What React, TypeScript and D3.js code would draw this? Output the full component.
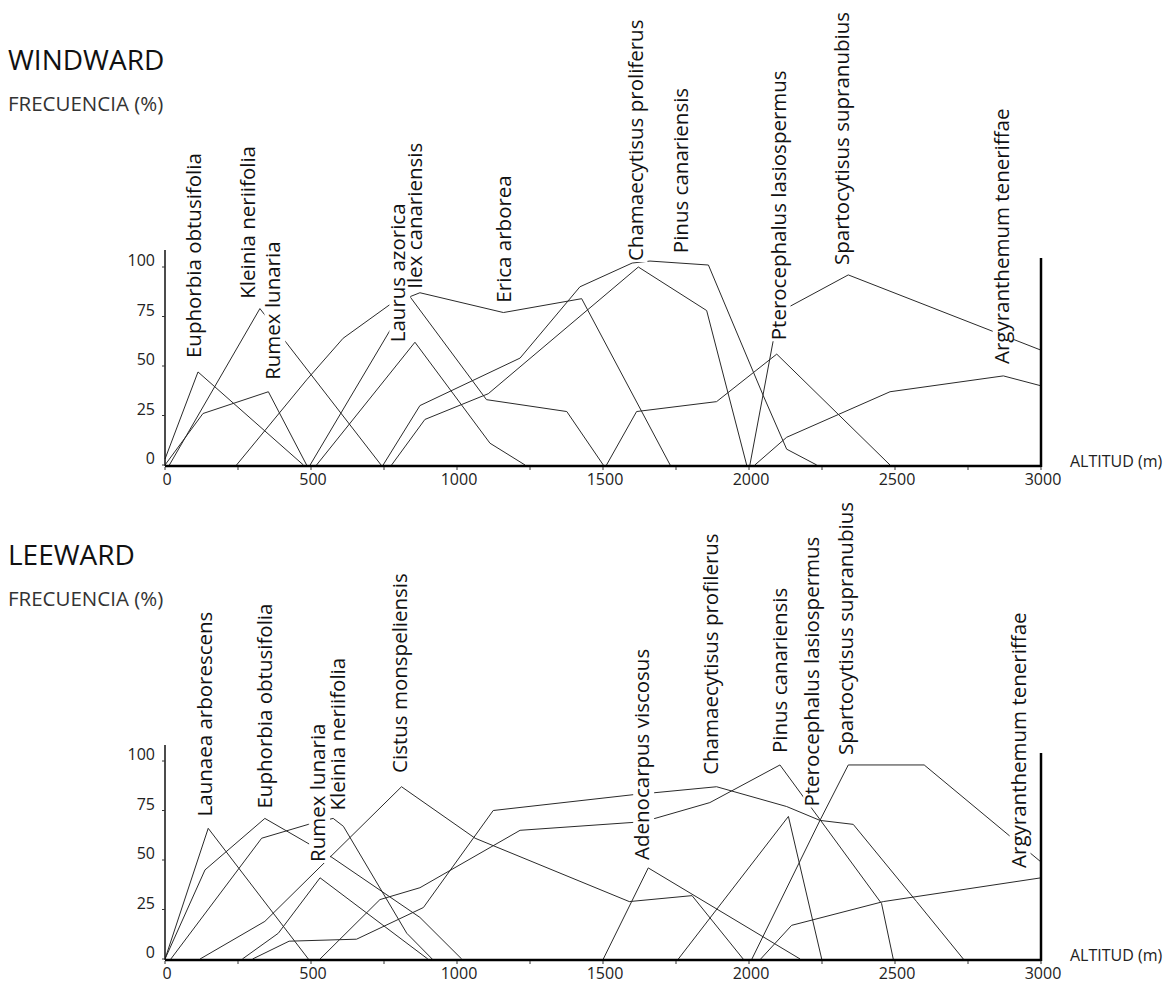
import React, { useEffect, useRef } from 'react';
import * as d3 from 'd3';

const altitudeTicks = [0, 500, 1000, 1500, 2000, 2500, 3000];
const minorAltitudeTicks = [250, 750, 1250, 1750, 2250, 2750];
const frequencyTicks = [0, 25, 50, 75, 100];

// WINDWARD
const windwardSpecies = [
  'Euphorbia obtusifolia',
  'Kleinia neriifolia',
  'Rumex lunaria',
  'Laurus azorica',
  'Ilex canariensis',
  'Erica arborea',
  'Chamaecytisus proliferus',
  'Pinus canariensis',
  'Pterocephalus lasiospermus',
  'Spartocytisus supranubius',
  'Argyranthemum teneriffae',
];
const windwardAltitude = [
  [0, 113, 474],
  [15, 325, 740],
  [0, 130, 354, 485],
  [519, 856, 1113, 1233],
  [497, 839, 1101, 1376, 1501],
  [245, 485, 610, 770, 873, 1159, 1427, 1730],
  [776, 890, 1107, 1621, 1855, 1992],
  [747, 873, 1216, 1421, 1600, 1661, 1861, 2049, 2129, 2232],
  [1512, 1615, 1889, 2095, 2483],
  [2003, 2101, 2340, 3000],
  [2020, 2129, 2483, 2871, 3000],
];
const windwardFrequency = [
  [3, 47, 0],
  [0, 79, 0],
  [0, 26, 37, 0],
  [0, 62, 11, 0],
  [0, 85, 33, 27, 0],
  [0, 43, 64, 81, 87, 77, 84, 0],
  [0, 23, 36, 100, 78, 0],
  [0, 30, 54, 90, 102, 103, 101, 35, 8, 0],
  [0, 27, 32, 56, 0],
  [0, 77, 96, 58],
  [0, 14, 37, 45, 40],
];
const windwardLabelAltitude = [99, 284, 370, 798, 856, 1158, 1610, 1767, 2100, 2318, 2864];
const windwardLabelFrequency = [54, 84, 43, 62, 89, 82, 103, 107, 63, 101, 51];

// LEEWARD
const leewardSpecies = [
  'Launaea arborescens',
  'Euphorbia obtusifolia',
  'Rumex lunaria',
  'Kleinia neriifolia',
  'Cistus monspeliensis',
  'Adenocarpus viscosus',
  'Chamaecytisus profilerus',
  'Pinus canariensis',
  'Pterocephalus lasiospermus',
  'Spartocytisus supranubius',
  'Argyranthemum teneriffae',
];
const leewardAltitude = [
  [0, 148, 491],
  [0, 137, 342, 565, 873, 1016],
  [265, 388, 531, 900],
  [20, 331, 491, 576, 611, 828, 915],
  [120, 342, 810, 1062, 1590, 1805, 1980],
  [1501, 1655, 2175],
  [300, 425, 656, 885, 1124, 1604, 1678, 1889, 2129, 2243, 2357, 2574, 2734],
  [531, 736, 873, 1216, 1604, 1678, 1866, 2106, 2454, 2494],
  [1758, 2135, 2249],
  [2010, 2243, 2340, 2600, 3000],
  [2040, 2146, 2460, 3000],
];
const leewardFrequency = [
  [0, 66, 0],
  [0, 45, 71, 52, 21, 0],
  [0, 13, 41, 0],
  [0, 61, 68, 71, 67, 13, 0],
  [0, 19, 87, 61, 29, 32, 0],
  [0, 46, 0],
  [0, 9, 10, 26, 75, 83, 84, 87, 77, 70, 68, 29, 0],
  [0, 30, 36, 65, 69, 71, 79, 98, 28, 0],
  [0, 72, 0],
  [0, 70, 98, 98, 49],
  [0, 17, 29, 41],
];
const leewardLabelAltitude = [137, 342, 523, 590, 804, 1633, 1869, 2106, 2215, 2331, 2922];
const leewardLabelFrequency = [72, 76, 49, 75, 94, 50, 93, 104, 77, 103, 46];

const FONT = "'Open Sans', 'DejaVu Sans', sans-serif";
const LABEL_SIZE = 20.5;

const App = () => {
  const ref = useRef<SVGSVGElement>(null);

  useEffect(() => {
    const svg = d3.select(ref.current);
    svg.selectAll('*').remove();

    const x = d3.scaleLinear().domain([0, 3000]).range([165, 1041]);

    const panels = [
      {
        title: 'WINDWARD', titleY: 70, subY: 111, base: 465, axisTop: 250, rightTop: 258,
        species: windwardSpecies, alt: windwardAltitude, freq: windwardFrequency,
        labelAlt: windwardLabelAltitude, labelFreq: windwardLabelFrequency,
      },
      {
        title: 'LEEWARD', titleY: 565, subY: 606, base: 959, axisTop: 745, rightTop: 753,
        species: leewardSpecies, alt: leewardAltitude, freq: leewardFrequency,
        labelAlt: leewardLabelAltitude, labelFreq: leewardLabelFrequency,
      },
    ];

    panels.forEach((p) => {
      const y = d3.scaleLinear().domain([0, 100]).range([p.base, p.base - 198]);
      const g = svg.append('g');

      g.append('text').attr('x', 8).attr('y', p.titleY).text(p.title)
        .attr('font-family', FONT).attr('font-size', 28).attr('fill', '#111');
      g.append('text').attr('x', 8).attr('y', p.subY).text('FRECUENCIA (%)')
        .attr('font-family', FONT).attr('font-size', 20.5).attr('fill', '#333');

      // species lines
      const line = d3.line<[number, number]>().x((d) => x(d[0])).y((d) => y(d[1]));
      p.alt.forEach((alts, i) => {
        const pts = alts.map((a, j) => [a, p.freq[i][j]] as [number, number]);
        g.append('path').attr('d', line(pts)).attr('fill', 'none')
          .attr('stroke', '#2a2a2a').attr('stroke-width', 1);
      });

      // axes
      g.append('line').attr('x1', x(0)).attr('x2', x(3000)).attr('y1', p.base + 1).attr('y2', p.base + 1)
        .attr('stroke', '#000').attr('stroke-width', 2.5);
      g.append('line').attr('x1', x(0)).attr('x2', x(0)).attr('y1', p.base + 1).attr('y2', p.axisTop)
        .attr('stroke', '#111').attr('stroke-width', 1.5);
      g.append('line').attr('x1', x(3000)).attr('x2', x(3000)).attr('y1', p.base + 2).attr('y2', p.rightTop)
        .attr('stroke', '#000').attr('stroke-width', 2.5);

      g.selectAll('.xtick').data(altitudeTicks.concat(minorAltitudeTicks)).enter().append('line')
        .attr('x1', (d) => x(d)).attr('x2', (d) => x(d))
        .attr('y1', p.base + 2).attr('y2', p.base + 5)
        .attr('stroke', '#333').attr('stroke-width', 1);

      g.selectAll('.xlabel').data(altitudeTicks).enter().append('text')
        .attr('x', (d) => x(d) + 2).attr('y', p.base + 16)
        .attr('text-anchor', 'middle').attr('dominant-baseline', 'middle')
        .attr('font-family', FONT).attr('font-size', 16).attr('fill', '#222')
        .text((d) => d);

      g.selectAll('.ytick').data(frequencyTicks).enter().append('line')
        .attr('x1', x(0) - 3).attr('x2', x(0))
        .attr('y1', (d) => y(d)).attr('y2', (d) => y(d))
        .attr('stroke', '#333').attr('stroke-width', 1);

      g.selectAll('.ylabel').data(frequencyTicks).enter().append('text')
        .attr('x', 155).attr('y', (d) => y(d) - 5)
        .attr('text-anchor', 'end').attr('dominant-baseline', 'middle')
        .attr('font-family', FONT).attr('font-size', 16).attr('fill', '#222')
        .text((d) => d);

      g.append('text').attr('x', 1070).attr('y', p.base - 2).text('ALTITUD (m)')
        .attr('dominant-baseline', 'middle')
        .attr('font-family', FONT).attr('font-size', 16).attr('fill', '#222');

      // species labels, masking the lines behind them
      p.species.forEach((name, i) => {
        const lg = g.append('g')
          .attr('transform', `translate(${x(p.labelAlt[i])},${y(p.labelFreq[i])}) rotate(-90)`);
        const t = lg.append('text').attr('x', 0).attr('y', 0).attr('dy', '0.36em')
          .attr('font-family', FONT).attr('font-size', LABEL_SIZE).attr('fill', '#111')
          .text(name);
        const w = (t.node() as SVGTextElement).getComputedTextLength();
        lg.insert('rect', 'text')
          .attr('x', -1).attr('y', -0.42 * LABEL_SIZE)
          .attr('width', w + 2).attr('height', 1.02 * LABEL_SIZE)
          .attr('fill', '#fff');
      });
    });
  }, []);

  return (
    <svg
      ref={ref}
      width={1174}
      height={991}
      style={{ position: 'absolute', left: 0, top: 0, background: '#fff' }}
    />
  );
};

export default App;
